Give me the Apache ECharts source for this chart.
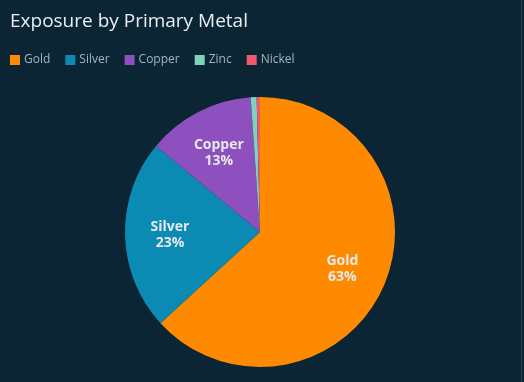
<!DOCTYPE html>
<html><head><meta charset="utf-8">
<script src="https://cdn.jsdelivr.net/npm/echarts@6/dist/echarts.min.js"></script>
<style>html,body{margin:0;padding:0;background:#0b2534;}#c{width:524px;height:382px;}</style>
</head><body><div id="c"></div>
<script>
const categories = ['Gold', 'Silver', 'Copper', 'Zinc', 'Nickel'];
const values = [63.2, 22.8, 12.9, 0.7, 0.4];
const colors = ['#ff8a00', '#0b8bb4', '#8e4fbf', '#7ed3bd', '#f0586c'];

const data = categories.map((n, i) => ({ name: n, value: values[i] }));
const chart = echarts.init(document.getElementById('c'));
chart.setOption({
  backgroundColor: '#0b2534',
  color: colors,
  title: {
    text: 'Exposure by Primary Metal',
    left: 5, top: 7,
    textStyle: { color: '#e8eef1', fontSize: 19, fontWeight: 'normal', fontFamily: 'Open Sans' }
  },
  legend: {
    data: categories,
    left: 5, top: 49,
    icon: 'rect', itemWidth: 10, itemHeight: 10, itemGap: 15,
    textStyle: { color: '#a3b4bd', fontSize: 12, fontFamily: 'Open Sans', padding: [0, 0, 0, -1] }
  },
  series: [
    {
      type: 'pie',
      center: [260, 232],
      radius: [0, 135],
      startAngle: 90,
      clockwise: true,
      percentPrecision: 0,
      label: { show: false },
      labelLine: { show: false },
      itemStyle: { borderWidth: 0 },
      data: data
    },
    {
      type: 'pie',
      center: [260, 233],
      radius: [0, 174],
      startAngle: 90,
      clockwise: true,
      silent: true,
      percentPrecision: 0,
      minShowLabelAngle: 10,
      itemStyle: { color: 'rgba(0,0,0,0)' },
      labelLine: { show: false },
      label: {
        show: true, position: 'inside',
        formatter: '{b}\n{d}%',
        color: '#e6e9ec', fontSize: 14, fontWeight: 'bold', fontFamily: 'Open Sans', lineHeight: 16,
        textBorderWidth: 0
      },
      data: data
    }
  ],
  graphic: [{
    type: 'rect', shape: { x: 521, y: 0, width: 1, height: 382 },
    style: { fill: '#2b4655' }, silent: true
  }]
});
</script></body></html>
